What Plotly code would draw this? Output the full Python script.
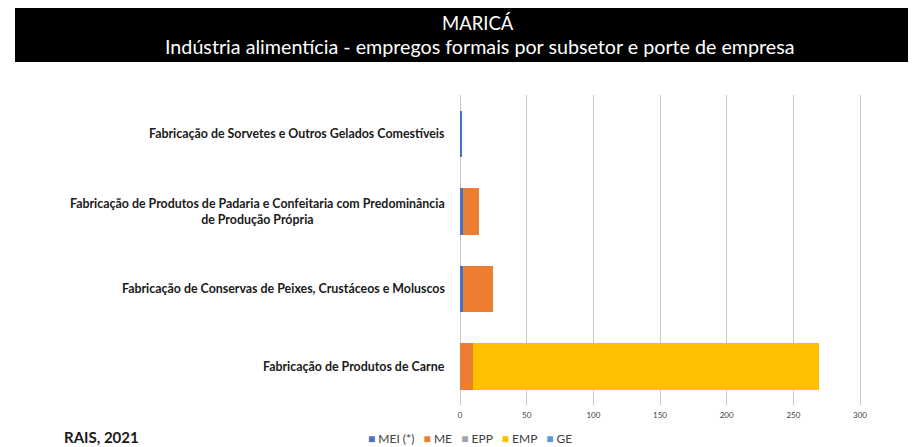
import plotly.graph_objects as go

categories = [
    "Fabricação de Sorvetes e Outros Gelados Comestíveis",
    "Fabricação de Produtos de Padaria e Confeitaria com Predominância<br>de Produção Própria",
    "Fabricação de Conservas de Peixes, Crustáceos e Moluscos",
    "Fabricação de Produtos de Carne",
]
mei = [1, 2, 2, 0]
me = [0, 12, 23, 10]
epp = [0, 0, 0, 0]
emp = [0, 0, 0, 259]
ge = [0, 0, 0, 0]
series_names = ["MEI (*)", "ME", "EPP", "EMP", "GE"]
series_values = [mei, me, epp, emp, ge]
colors = ["#4472C4", "#ED7D31", "#A5A5A5", "#FFC000", "#5B9BD5"]
x_ticks = [0, 50, 100, 150, 200, 250, 300]

FONT = "Lato, sans-serif"

W, H = 922, 447
L, R, T, B = 460, 22, 95, 42
PW, PH = W - L - R, H - T - B


def px(x):
    return (x - L) / PW


def py(y):
    return (H - B - y) / PH


fig = go.Figure()
for name, vals, col in zip(series_names, series_values, colors):
    fig.add_trace(go.Bar(
        y=categories, x=vals, name=name, orientation="h",
        marker=dict(color=col, line=dict(width=0)), showlegend=False,
    ))

# Category labels as annotations so that wrapped lines are centred
for cat in categories:
    fig.add_annotation(
        x=0, xref="paper", y=cat, yref="y", xanchor="right", yanchor="middle",
        xshift=-13, text="<b>" + cat + "</b>", showarrow=False, align="center",
        font=dict(family=FONT, size=12.4, color="#1a1a1a"),
    )

# Title band
fig.add_shape(type="rect", xref="paper", yref="paper",
              x0=px(15), x1=px(908), y0=py(62), y1=py(8),
              fillcolor="black", line=dict(width=0), layer="below")
fig.add_annotation(x=px(478), xref="paper", y=py(23), yref="paper",
                   text="MARICÁ", showarrow=False, xanchor="center", yanchor="middle",
                   font=dict(family=FONT, size=18.5, color="white"))
fig.add_annotation(x=px(480), xref="paper", y=py(46), yref="paper",
                   text="Indústria alimentícia - empregos formais por subsetor e porte de empresa",
                   showarrow=False, xanchor="center", yanchor="middle",
                   font=dict(family=FONT, size=19.7, color="white"))
fig.add_annotation(x=px(62), xref="paper", y=py(437), yref="paper",
                   text="<b>RAIS, 2021</b>", showarrow=False, xanchor="left", yanchor="middle",
                   font=dict(family=FONT, size=15, color="#1a1a1a"))

# Legend (compact, Excel style)
legend_parts = []
for name, col in zip(series_names, colors):
    legend_parts.append('<span style="color:%s">■</span> %s' % (col, name))
fig.add_annotation(x=px(366), xref="paper", y=py(438), yref="paper",
                   text="&nbsp;&nbsp;&nbsp;".join(legend_parts), showarrow=False,
                   xanchor="left", yanchor="middle",
                   font=dict(family=FONT, size=12, color="#404040"))

fig.update_layout(
    width=W, height=H,
    margin=dict(l=L, r=R, t=T, b=B, autoexpand=False),
    paper_bgcolor="white", plot_bgcolor="white",
    barmode="stack", bargap=0.40,
    showlegend=False,
    xaxis=dict(range=[0, 330], tickvals=x_ticks, showgrid=True,
               gridcolor="#C8C8C8", gridwidth=1, zeroline=True, zerolinecolor="#C8C8C8",
               zerolinewidth=1, showline=False, ticks="", ticklabelstandoff=4,
               tickfont=dict(family=FONT, size=8, color="#404040")),
    yaxis=dict(autorange="reversed", showticklabels=False, showgrid=False,
               showline=False, ticks=""),
)

fig.write_html("out.html", config={"displayModeBar": False},
               post_script="document.body.style.margin='0px';")
